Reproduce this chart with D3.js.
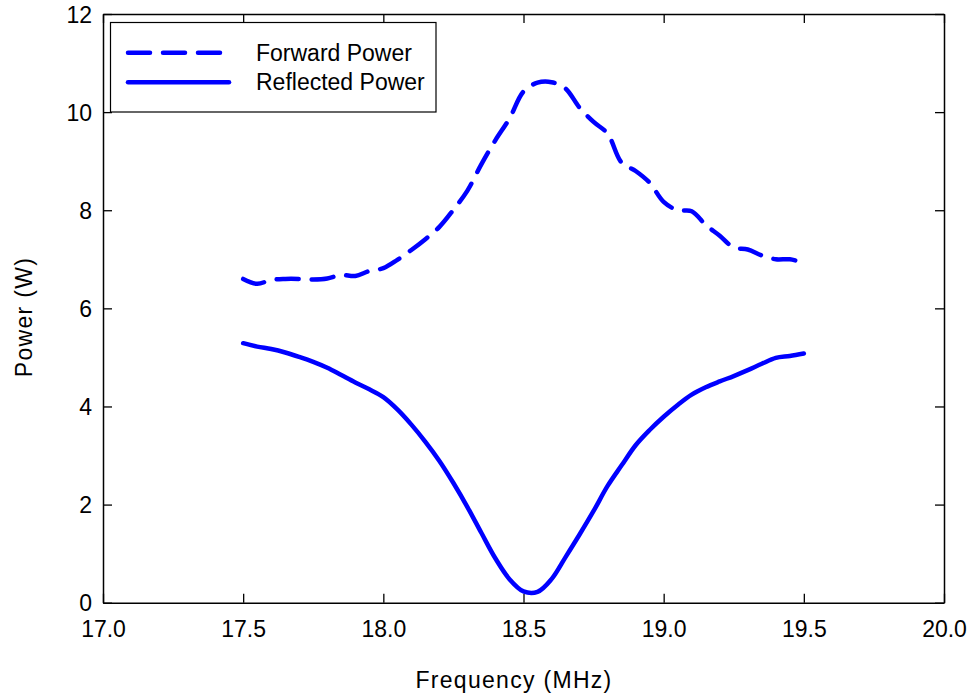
<!doctype html>
<html lang="en">

<head>
  <title>Forward and reflected power</title>
  <meta charset="utf-8" />
  <script src="https://cdn.jsdelivr.net/npm/d3@7"></script>
  <style>
    body { margin: 0; background: #fff; }
    svg text { font-family: "Liberation Sans", Arial, sans-serif; fill: #000; }
  </style>
  <script>
    // frequency samples (MHz)
    const freq = [17.50, 17.55, 17.60, 17.65, 17.70, 17.75, 17.80, 17.85, 17.90, 17.95,
      18.00, 18.05, 18.10, 18.15, 18.20, 18.25, 18.30, 18.35, 18.40, 18.45,
      18.50, 18.55, 18.60, 18.65, 18.70, 18.75, 18.80, 18.85, 18.90, 18.95,
      19.00, 19.05, 19.10, 19.15, 19.20, 19.25, 19.30, 19.35, 19.40, 19.45, 19.50];
    // forward power (W)
    const forwardPower = [6.60, 6.50, 6.58, 6.60, 6.60, 6.59, 6.61, 6.68, 6.66, 6.76,
      6.82, 6.99, 7.19, 7.41, 7.66, 8.01, 8.40, 8.94, 9.43, 9.87,
      10.42, 10.60, 10.61, 10.48, 10.09, 9.80, 9.56, 8.97, 8.80, 8.56,
      8.17, 8.00, 7.98, 7.70, 7.48, 7.24, 7.20, 7.08, 7.00, 7.00, 6.93];
    // reflected power (W)
    const reflectedPower = [5.29, 5.22, 5.17, 5.10, 5.01, 4.91, 4.79, 4.64, 4.49, 4.35,
      4.19, 3.94, 3.63, 3.28, 2.89, 2.44, 1.95, 1.42, 0.90, 0.48,
      0.23, 0.22, 0.48, 0.93, 1.39, 1.87, 2.38, 2.80, 3.21, 3.52,
      3.79, 4.03, 4.24, 4.39, 4.51, 4.62, 4.74, 4.87, 4.99, 5.03, 5.08];
    const seriesNames = ["Forward Power", "Reflected Power"];
    const xTicks = [17.0, 17.5, 18.0, 18.5, 19.0, 19.5, 20.0];
    const yTicks = [0, 2, 4, 6, 8, 10, 12];

    window.onload = () => {
      const w = 972;
      const h = 700;
      const left = 103, right = 944, top = 14, bottom = 602.7;
      const tick = 9;
      const fontSize = "23px";
      const blue = "#0000ff";
      const dashes = ["22,13", null];

      const svg = d3.select("#chart").append("svg").attr("width", w).attr("height", h);

      const x = d3.scaleLinear().domain([17, 20]).range([left, right]);
      const y = d3.scaleLinear().domain([0, 12]).range([bottom, top]);

      // frame with inward ticks on every side
      const xb = svg.append("g").attr("transform", `translate(0,${bottom})`)
        .call(d3.axisBottom(x).tickValues(xTicks).tickFormat(d3.format(".1f"))
          .tickSizeInner(-tick).tickSizeOuter(0).tickPadding(17.7));
      const yl = svg.append("g").attr("transform", `translate(${left},0)`)
        .call(d3.axisLeft(y).tickValues(yTicks).tickFormat(d3.format("d"))
          .tickSizeInner(-tick).tickSizeOuter(0).tickPadding(11));
      const xt = svg.append("g").attr("transform", `translate(0,${top})`)
        .call(d3.axisTop(x).tickValues(xTicks).tickFormat("").tickSizeInner(-tick).tickSizeOuter(0));
      const yr = svg.append("g").attr("transform", `translate(${right},0)`)
        .call(d3.axisRight(y).tickValues(yTicks).tickFormat("").tickSizeInner(-tick).tickSizeOuter(0));

      [xb, yl, xt, yr].forEach(g => {
        g.selectAll("path.domain").attr("stroke", "#000").attr("stroke-width", 1.5);
        g.selectAll(".tick line").attr("stroke", "#000").attr("stroke-width", 1.3);
        g.selectAll(".tick text").style("font-size", fontSize)
          .style("font-family", "'Liberation Sans', Arial, sans-serif").attr("fill", "#000");
      });
      yl.selectAll(".tick text").attr("dy", "0.35em");

      // axis titles
      svg.append("text")
        .text("Frequency (MHz)")
        .attr("x", 514)
        .attr("y", 688)
        .attr("text-anchor", "middle")
        .style("font-size", fontSize)
        .style("letter-spacing", "1.3px");

      svg.append("text")
        .text("Power (W)")
        .attr("transform", "translate(32,317) rotate(-90)")
        .attr("text-anchor", "middle")
        .style("font-size", fontSize)
        .style("letter-spacing", "1.3px");

      // curves
      const series = [forwardPower, reflectedPower].map(vals => freq.map((f, i) => [f, vals[i]]));
      const line = d3.line()
        .x(d => x(d[0]))
        .y(d => y(d[1]))
        .curve(d3.curveCatmullRom.alpha(0.5));

      svg.selectAll("path.curve")
        .data(series)
        .enter()
        .append("path")
        .attr("class", "curve")
        .attr("d", line)
        .attr("fill", "none")
        .attr("stroke", blue)
        .attr("stroke-width", 4.5)
        .attr("stroke-linecap", "round")
        .attr("stroke-linejoin", "round")
        .attr("stroke-dasharray", (d, i) => dashes[i]);

      // legend
      const legend = svg.append("g");
      legend.append("rect")
        .attr("x", 110.5)
        .attr("y", 22.5)
        .attr("width", 325.5)
        .attr("height", 89.5)
        .attr("fill", "#fff")
        .attr("stroke", "#000")
        .attr("stroke-width", 1.2);

      const items = legend.selectAll("g.item")
        .data(seriesNames)
        .enter()
        .append("g")
        .attr("transform", (d, i) => `translate(0,${52.7 + i * 29.6})`);

      items.append("line")
        .attr("x1", 128)
        .attr("x2", (d, i) => i === 0 ? 220 : 229)
        .attr("stroke", blue)
        .attr("stroke-width", 4.5)
        .attr("stroke-linecap", "round")
        .attr("stroke-dasharray", (d, i) => dashes[i]);

      items.append("text")
        .text(d => d)
        .attr("x", 256)
        .attr("dy", "0.35em")
        .style("font-size", fontSize);
    }
  </script>
</head>

<body>
  <div id="chart"></div>
</body></html>
